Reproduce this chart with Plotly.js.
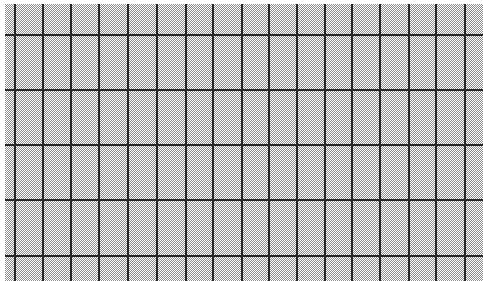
<!DOCTYPE html>
<html>
<head>
<meta charset="utf-8">
<script src="https://cdn.plot.ly/plotly-3.0.1.min.js"></script>
<style>html,body{margin:0;padding:0;background:#fff;}#chart{width:483px;height:281px;}</style>
</head>
<body>
<div id="chart"></div>
<script>
// Grid line positions (pixel units)
var gridX = [14.7, 42.7, 71.3, 99.3, 128, 156.7, 186, 213.3, 241.7, 269, 297.3, 324.5, 352.3, 380.3, 409, 436.3, 464.7];
var gridY = [35, 90, 145, 200, 256];

var dotSvg = "<svg xmlns='http://www.w3.org/2000/svg' width='478' height='277'>" +
  "<defs><pattern id='p' width='2' height='2' patternUnits='userSpaceOnUse'>" +
  "<rect width='2' height='2' fill='#ffffff'/>" +
  "<rect width='1' height='1' fill='#8e8e8e'/>" +
  "<rect x='1' y='1' width='1' height='1' fill='#8e8e8e'/>" +
  "</pattern></defs><rect width='478' height='277' fill='url(#p)'/></svg>";
var dotUri = "data:image/svg+xml;charset=utf-8," + encodeURIComponent(dotSvg);

var layout = {
  width: 483, height: 281,
  margin: {l: 5, r: 0, t: 4, b: 0, pad: 0},
  paper_bgcolor: '#ffffff',
  plot_bgcolor: '#c6c6c6',
  showlegend: false,
  xaxis: {
    range: [5, 483], tickmode: 'array', tickvals: gridX,
    showticklabels: false, ticks: '', showgrid: true,
    gridcolor: '#262626', gridwidth: 2, zeroline: false, showline: false, fixedrange: true
  },
  yaxis: {
    range: [281, 4], tickmode: 'array', tickvals: gridY,
    showticklabels: false, ticks: '', showgrid: true,
    gridcolor: '#262626', gridwidth: 2, zeroline: false, showline: false, fixedrange: true
  },
  images: [{
    source: dotUri, xref: 'paper', yref: 'paper', x: 0, y: 1,
    sizex: 1, sizey: 1, sizing: 'stretch', xanchor: 'left', yanchor: 'top', layer: 'below'
  }]
};

var data = [{x: [], y: [], type: 'scatter', mode: 'markers', hoverinfo: 'skip'}];

Plotly.newPlot('chart', data, layout, {displayModeBar: false, staticPlot: true});
</script>
</body>
</html>
